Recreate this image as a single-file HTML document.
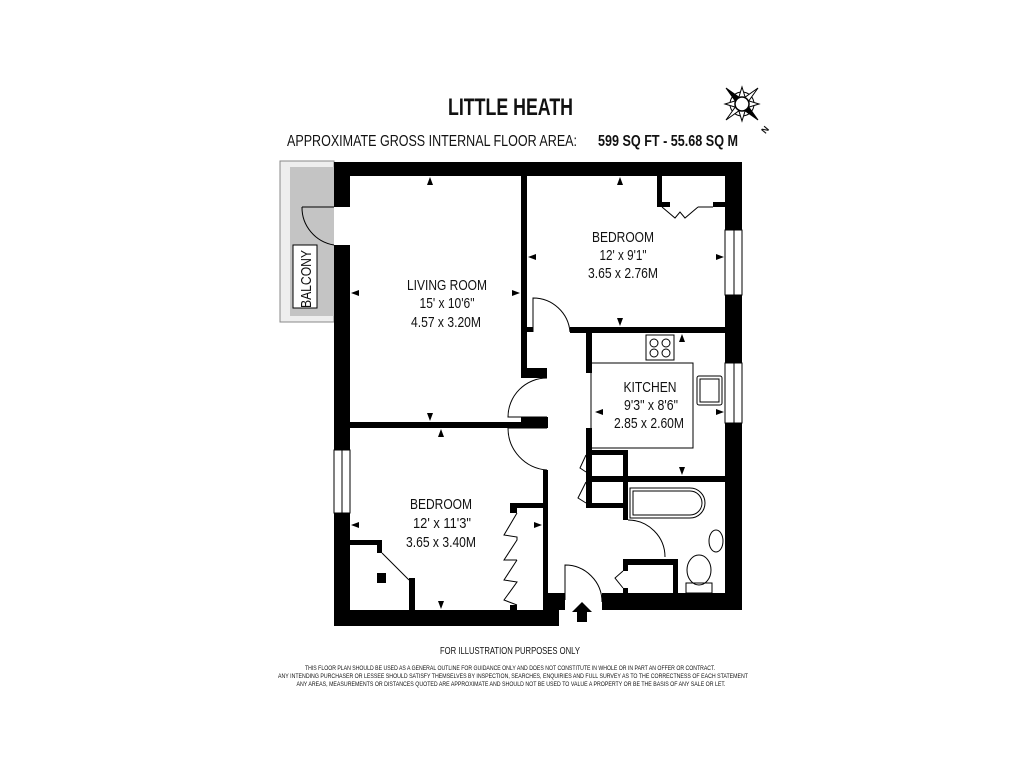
<!DOCTYPE html>
<html><head><meta charset="utf-8"><style>
html,body{margin:0;padding:0;background:#fff;}
svg{display:block;}
text{font-family:"Liberation Sans",sans-serif;fill:#111;}
</style></head><body>
<svg width="1024" height="768" viewBox="0 0 1024 768" xmlns="http://www.w3.org/2000/svg">
<rect width="1024" height="768" fill="#fff"/>
<!-- titles -->
<text x="448" y="115" font-size="24" font-weight="bold" textLength="125" lengthAdjust="spacingAndGlyphs">LITTLE HEATH</text>
<text x="287" y="146" font-size="16" textLength="290" lengthAdjust="spacingAndGlyphs">APPROXIMATE GROSS INTERNAL FLOOR AREA:</text>
<text x="598" y="146" font-size="16" font-weight="bold" textLength="140" lengthAdjust="spacingAndGlyphs">599 SQ FT  -  55.68 SQ M</text>
<!-- compass -->
<g transform="translate(742,104)" stroke="#000" stroke-width="1" fill="none">
<circle r="12"/>
<polygon points="0,-17 4,-4 -4,-4" fill="#fff"/><polygon points="0,17 4,4 -4,4" fill="#fff"/>
<polygon points="-17,0 -4,4 -4,-4" fill="#fff"/><polygon points="17,0 4,4 4,-4" fill="#fff"/>
<polygon points="-16,-16 -2,-6 -6,-2" fill="#000"/><polygon points="16,16 2,6 6,2" fill="#000"/>
<polygon points="16,-16 6,-2 2,-6" fill="#fff"/><polygon points="-16,16 -6,2 -2,6" fill="#fff"/>
<circle r="7" fill="#fff" stroke-width="1.5"/>
</g>
<text x="762" y="133" font-size="9" font-weight="bold" transform="rotate(-50 765 130)">N</text>
<!-- balcony -->
<rect x="280" y="161" width="54" height="161" fill="#eee" stroke="#888" stroke-width="1"/>
<rect x="290" y="167" width="44" height="149" fill="#c4c4c4"/>
<rect x="293" y="245" width="24" height="63" fill="#fff" stroke="#000" stroke-width="1"/>
<text x="0" y="0" font-size="15" transform="translate(311,308) rotate(-90)" textLength="58" lengthAdjust="spacingAndGlyphs">BALCONY</text>
<rect x="334" y="207" width="16" height="38" fill="#fff"/>
<!-- walls -->
<g fill="#000">
<rect x="334" y="162" width="406" height="14"/>
<rect x="334" y="162" width="16" height="45"/>
<rect x="334" y="245" width="16" height="205"/>
<rect x="334" y="513" width="16" height="113"/>
<rect x="334" y="610" width="225" height="16"/>
<rect x="548" y="593" width="17" height="17"/>
<rect x="602" y="593" width="140" height="17"/>
<rect x="725" y="162" width="17" height="68"/>
<rect x="725" y="295" width="17" height="68"/>
<rect x="725" y="423" width="17" height="187"/>
<rect x="521" y="176" width="6" height="197"/>
<rect x="521" y="368" width="26" height="10"/>
<rect x="521" y="417" width="27" height="11"/>
<rect x="350" y="422" width="197" height="6"/>
<rect x="570" y="327" width="155" height="6"/>
<rect x="527" y="327" width="6" height="5"/>
<rect x="657" y="176" width="5" height="31"/>
<rect x="657" y="202" width="13" height="5"/>
<rect x="713" y="202" width="12" height="5"/>
<rect x="586" y="333" width="6" height="40"/>
<rect x="586" y="428" width="6" height="80"/>
<rect x="586" y="450" width="42" height="5"/>
<rect x="586" y="476" width="139" height="6"/>
<rect x="586" y="503" width="42" height="5"/>
<rect x="623" y="450" width="5" height="70"/>
<rect x="623" y="559" width="55" height="6"/>
<rect x="673" y="559" width="5" height="34"/>
<rect x="623" y="559" width="5" height="12"/>
<rect x="623" y="588" width="5" height="5"/>
<rect x="543" y="470" width="5" height="140"/>
<rect x="510" y="503" width="38" height="5"/>
<rect x="510" y="503" width="7" height="10"/>
<rect x="510" y="605" width="7" height="5"/>
<rect x="350" y="540" width="32" height="5"/>
<rect x="377" y="540" width="5" height="13"/>
<rect x="377" y="573" width="9" height="10"/>
<rect x="409" y="578" width="6" height="32"/>
</g>
<!-- windows -->
<g stroke="#000" stroke-width="1" fill="#fff">
<rect x="334" y="450" width="16" height="63"/><line x1="342" y1="450" x2="342" y2="513"/>
<rect x="725" y="230" width="17" height="65"/><line x1="734" y1="230" x2="734" y2="295"/>
<rect x="725" y="363" width="17" height="60"/><line x1="734" y1="363" x2="734" y2="423"/>
</g>
<!-- doors -->
<g stroke="#000" stroke-width="1" fill="none">
<path d="M302,207 L334,207 M302,207 A38,38 0 0 0 334,245"/>
<path d="M533,332 L533,298 A37,37 0 0 1 570,332"/>
<path d="M547,378 A39,39 0 0 0 508,417 L547,417 M547,428 L508,428 A42,42 0 0 0 547,470"/>
<path d="M628,520 A37,37 0 0 1 665,557"/>
<path d="M565,600 L565,565 A37,37 0 0 1 602,602"/>
<path d="M382,553 L409,580"/>
<path d="M662,207 L675,218 L680,212 L685,218 L698,207 M698,207 L713,207"/>
<path d="M586,455 L580,468 L586,472 M586,482 L578,498 L586,503"/>
<path d="M623,571 L615,578 L623,588"/>
<path d="M517,513 L504,535 L517,537 L517,540 L504,560 L517,560 M517,560 L504,580 L517,582 L504,600 L517,605"/>
<rect x="591" y="363" width="102" height="85"/>
<rect x="646" y="335" width="28" height="25"/>
<circle cx="654" cy="343" r="4"/><circle cx="666" cy="343" r="4"/><circle cx="654" cy="353" r="4"/><circle cx="666" cy="353" r="4"/>
<rect x="697" y="376" width="25" height="29" rx="2"/><rect x="700" y="379" width="19" height="23"/>
<path d="M630,488 L690,488 A15,15 0 0 1 690,518 L630,518 Z"/>
<path d="M633,491 L690,491 A12,12 0 0 1 690,515 L633,515 Z"/>
<ellipse cx="716" cy="541" rx="7" ry="11"/>
<ellipse cx="699" cy="570" rx="12" ry="15"/><rect x="686" y="583" width="26" height="10"/>
</g>
<polygon points="582,602 592,612 587,612 587,622 577,622 577,612 572,612" fill="#000"/>
<g fill="#000">
<polygon points="430,177 433,185 427,185"/><polygon points="430,421 433,413 427,413"/>
<polygon points="351,293 359,290 359,296"/><polygon points="520,293 512,290 512,296"/>
<polygon points="620,177 623,185 617,185"/><polygon points="620,326 623,318 617,318"/>
<polygon points="528,257 536,254 536,260"/><polygon points="724,257 716,254 716,260"/>
<polygon points="441,429 444,437 438,437"/><polygon points="441,609 444,601 438,601"/>
<polygon points="351,525 359,522 359,528"/><polygon points="542,525 534,522 534,528"/>
<polygon points="682,334 685,342 679,342"/><polygon points="682,475 685,467 679,467"/>
<polygon points="595,412 603,409 603,415"/><polygon points="724,412 716,409 716,415"/>
</g>
<g font-size="15" text-anchor="middle">
<text x="447" y="290" textLength="80" lengthAdjust="spacingAndGlyphs">LIVING ROOM</text>
<text x="447" y="308" textLength="55" lengthAdjust="spacingAndGlyphs">15' x 10'6"</text>
<text x="446" y="327" textLength="70" lengthAdjust="spacingAndGlyphs">4.57 x 3.20M</text>
<text x="623" y="242" textLength="62" lengthAdjust="spacingAndGlyphs">BEDROOM</text>
<text x="623" y="260" textLength="47" lengthAdjust="spacingAndGlyphs">12' x 9'1"</text>
<text x="623" y="278" textLength="70" lengthAdjust="spacingAndGlyphs">3.65 x 2.76M</text>
<text x="650" y="392" textLength="53" lengthAdjust="spacingAndGlyphs">KITCHEN</text>
<text x="651" y="410" textLength="54" lengthAdjust="spacingAndGlyphs">9'3" x 8'6"</text>
<text x="649" y="428" textLength="70" lengthAdjust="spacingAndGlyphs">2.85 x 2.60M</text>
<text x="441" y="509" textLength="62" lengthAdjust="spacingAndGlyphs">BEDROOM</text>
<text x="442" y="528" textLength="58" lengthAdjust="spacingAndGlyphs">12' x 11'3"</text>
<text x="441" y="547" textLength="70" lengthAdjust="spacingAndGlyphs">3.65 x 3.40M</text>
</g>
<g text-anchor="middle">
<text x="510" y="654" font-size="10" textLength="140" lengthAdjust="spacingAndGlyphs">FOR ILLUSTRATION PURPOSES ONLY</text>
<text x="510" y="670" font-size="6" textLength="410" lengthAdjust="spacingAndGlyphs">THIS FLOOR PLAN SHOULD BE USED AS A GENERAL OUTLINE FOR GUIDANCE ONLY AND DOES NOT CONSTITUTE IN WHOLE OR IN PART AN OFFER OR CONTRACT.</text>
<text x="513" y="678" font-size="6" textLength="470" lengthAdjust="spacingAndGlyphs">ANY INTENDING PURCHASER OR LESSEE SHOULD SATISFY THEMSELVES BY INSPECTION, SEARCHES, ENQUIRIES AND FULL SURVEY AS TO THE CORRECTNESS OF EACH STATEMENT</text>
<text x="511" y="686" font-size="6" textLength="429" lengthAdjust="spacingAndGlyphs">ANY AREAS, MEASUREMENTS OR DISTANCES QUOTED ARE APPROXIMATE AND SHOULD NOT BE USED TO VALUE A PROPERTY OR BE THE BASIS OF ANY SALE OR LET.</text>
</g>
</svg>
</body></html>
